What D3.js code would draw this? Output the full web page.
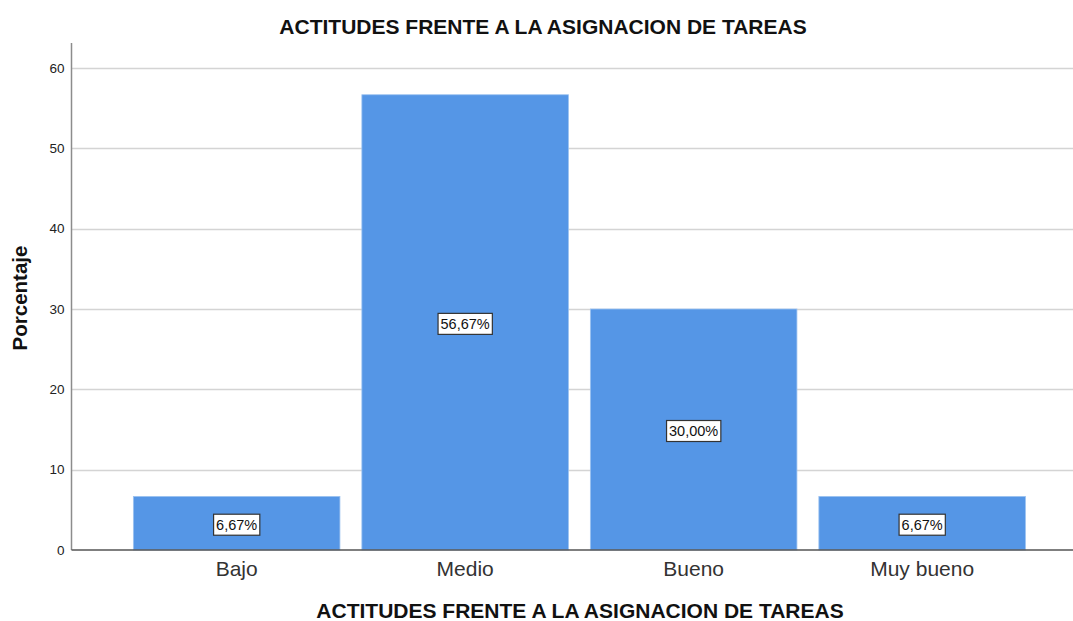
<!DOCTYPE html>
<html>
<head>
<meta charset="utf-8">
<script src="https://cdn.jsdelivr.net/npm/d3@7"></script>
<style>
    body { margin: 0; background: #fff; }
    text { font-family: "Liberation Sans", Arial, sans-serif; }
</style>
</head>
<body>
<svg id="chart" width="1073" height="621"></svg>
<script>
'use strict';

// data
const categories = ['Bajo', 'Medio', 'Bueno', 'Muy bueno'];
const percentages = [6.67, 56.67, 30.00, 6.67];
const yTicks = [0, 10, 20, 30, 40, 50, 60];
const title = 'ACTITUDES FRENTE A LA ASIGNACION DE TAREAS';

const svg = d3.select('#chart');

const plot = {left: 71.5, right: 1073, top: 43, bottom: 550};

// scales
let x = d3.scaleBand()
    .domain(categories)
    .range([122.4, 1036.4])
    .paddingInner(0.096)
    .paddingOuter(0.048);

let y = d3.scaleLinear()
    .domain([0, 60])
    .range([plot.bottom, 68]);

// gridlines
svg.append('g')
    .selectAll('line')
    .data(yTicks.filter(d => d > 0))
    .enter().append('line')
    .attr('x1', plot.left).attr('x2', plot.right)
    .attr('y1', d => Math.round(y(d)) + 0.5)
    .attr('y2', d => Math.round(y(d)) + 0.5)
    .attr('stroke', '#d4d4d4')
    .attr('stroke-width', 1.5);

// bars
svg.append('g')
    .selectAll('rect')
    .data(percentages)
    .enter().append('rect')
    .attr('x', (d, i) => x(categories[i]))
    .attr('width', x.bandwidth())
    .attr('y', d => y(d))
    .attr('height', d => plot.bottom - y(d))
    .attr('fill', '#5596e6')
    .attr('stroke', '#9cc2f0')
    .attr('stroke-width', 0.8);

// y axis
let yAxis = svg.append('g')
    .attr('transform', 'translate(' + plot.left + ',0)')
    .call(d3.axisLeft(y).tickValues(yTicks).tickSize(0).tickPadding(7));
yAxis.select('.domain').attr('d', 'M0,' + plot.top + 'V' + plot.bottom).attr('stroke', '#8c8c8c').attr('stroke-width', 1.5);
yAxis.selectAll('.tick text')
    .attr('font-size', 13.5)
    .attr('fill', '#222')
    .style('font-family', '"Liberation Sans", Arial, sans-serif');

// x axis
let xAxis = svg.append('g')
    .attr('transform', 'translate(0,' + plot.bottom + ')')
    .call(d3.axisBottom(x).tickSize(0).tickPadding(11));
xAxis.select('.domain').attr('d', 'M' + plot.left + ',0H' + plot.right).attr('stroke', '#555').attr('stroke-width', 1.5);
xAxis.selectAll('.tick text')
    .attr('font-size', 21)
    .attr('fill', '#333')
    .style('font-family', '"Liberation Sans", Arial, sans-serif');

// value labels in boxes
let labels = svg.append('g')
    .selectAll('g')
    .data(percentages)
    .enter().append('g')
    .attr('transform', (d, i) =>
        'translate(' + (x(categories[i]) + x.bandwidth() / 2) + ',' + ((y(d) + plot.bottom) / 2 + 1.5) + ')');

labels.append('text')
    .attr('text-anchor', 'middle')
    .attr('dy', '0.36em')
    .attr('font-size', 14.5)
    .attr('fill', '#111')
    .text(d => d.toFixed(2).replace('.', ',') + '%');

labels.each(function () {
    let g = d3.select(this);
    let bb = g.select('text').node().getBBox();
    g.insert('rect', 'text')
        .attr('x', bb.x - 2.5)
        .attr('y', -10.5)
        .attr('width', bb.width + 5)
        .attr('height', 21)
        .attr('fill', '#fff')
        .attr('stroke', '#333')
        .attr('stroke-width', 1.2);
});

// titles
svg.append('text')
    .attr('x', 543).attr('y', 34)
    .attr('text-anchor', 'middle')
    .attr('font-size', 21)
    .attr('font-weight', 'bold')
    .attr('fill', '#111')
    .text(title);

svg.append('text')
    .attr('x', 580).attr('y', 618)
    .attr('text-anchor', 'middle')
    .attr('font-size', 21)
    .attr('font-weight', 'bold')
    .attr('fill', '#111')
    .text(title);

svg.append('text')
    .attr('transform', 'translate(27,298) rotate(-90)')
    .attr('text-anchor', 'middle')
    .attr('font-size', 20.5)
    .attr('font-weight', 'bold')
    .attr('fill', '#111')
    .text('Porcentaje');
</script>
</body>
</html>
